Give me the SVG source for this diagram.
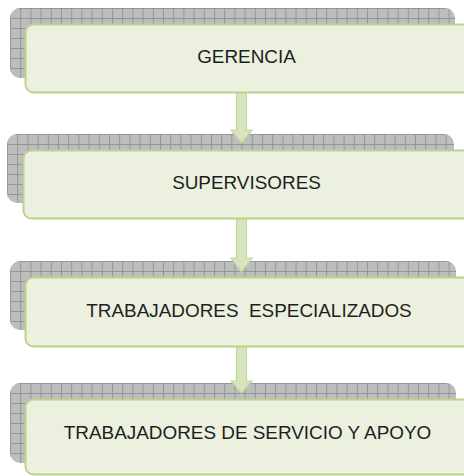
<svg xmlns="http://www.w3.org/2000/svg" width="464" height="476" viewBox="0 0 464 476">
<defs>
<pattern id="checker" width="2" height="2" patternUnits="userSpaceOnUse">
<rect width="2" height="2" fill="#c9c9c9"/>
<rect width="1" height="1" fill="#b2b2b2"/>
<rect x="1" y="1" width="1" height="1" fill="#b2b2b2"/>
</pattern>
<pattern id="grid" width="10.2" height="10" patternUnits="userSpaceOnUse">
<rect width="10.2" height="10" fill="url(#checker)"/>
<rect x="0" y="0" width="10.2" height="1" fill="#959595"/>
<rect x="0" y="0" width="1" height="10" fill="#959595"/>
</pattern>
</defs>
<style>
.shadow{fill:url(#grid);}
.box{fill:#ebf1de;stroke:#b9d48e;stroke-width:2;}
.lbl{font-family:"Liberation Sans",Arial,sans-serif;font-size:18.9px;fill:#1e1e1e;text-anchor:middle;white-space:pre;}
.arrow{fill:#d7e4bd;stroke:#c3d89e;stroke-width:1.2;}
</style>
<g id="node1">
<g transform="translate(10,8)"><rect class="shadow" x="0" y="0" width="445" height="70" rx="10"/></g>
<rect class="box" x="25.5" y="24.5" width="450" height="68" rx="8"/>
<text class="lbl" x="246.5" y="63">GERENCIA</text>
</g>
<g id="node2">
<g transform="translate(7,134)"><rect class="shadow" x="0" y="0" width="447" height="69" rx="10"/></g>
<rect class="box" x="23.5" y="150.5" width="450" height="68" rx="8"/>
<text class="lbl" x="246.5" y="189">SUPERVISORES</text>
</g>
<g id="node3">
<g transform="translate(10,261)"><rect class="shadow" x="0" y="0" width="446" height="69" rx="10"/></g>
<rect class="box" x="25.5" y="277.5" width="450" height="69" rx="8"/>
<text class="lbl" x="249" y="317" xml:space="preserve">TRABAJADORES  ESPECIALIZADOS</text>
</g>
<g id="node4">
<g transform="translate(10,383)"><rect class="shadow" x="0" y="0" width="446" height="80" rx="10"/></g>
<rect class="box" x="25.5" y="399.5" width="450" height="75" rx="8"/>
<text class="lbl" x="247.5" y="439">TRABAJADORES DE SERVICIO Y APOYO</text>
</g>
<g id="connectors">
<path class="arrow" d="M236.5,93.5 H246.5 V130 H252 L241.5,143 L231,130 H236.5 Z"/>
<path class="arrow" d="M236.5,219.5 H246.5 V258 H252 L241.5,272 L231,258 H236.5 Z"/>
<path class="arrow" d="M236.5,347.5 H246.5 V381 H252 L241.5,393 L231,381 H236.5 Z"/>
</g>
</svg>
